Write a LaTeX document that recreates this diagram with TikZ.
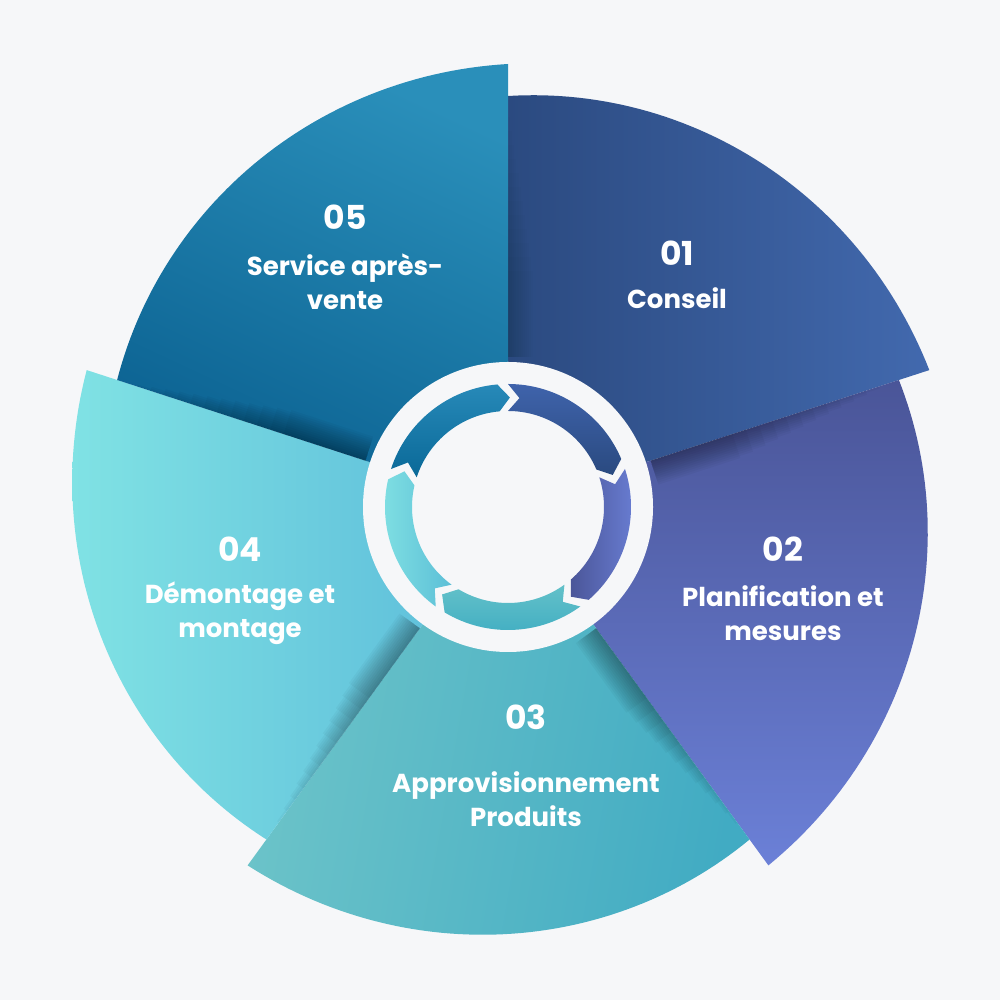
\documentclass[tikz,border=0pt]{standalone}
\usepackage{fontspec}
\setmainfont{Poppins}
\begin{document}
\begin{tikzpicture}[x=1pt,y=1pt,
  numtxt/.style={text=white,font=\fontsize{33}{36}\selectfont\bfseries,inner sep=0pt},
  labtxt/.style={text=white,font=\fontsize{26}{34}\selectfont\bfseries,align=center,inner sep=0pt}]
\definecolor{bg}{HTML}{F6F7F9}
\definecolor{sAa}{HTML}{2B4A80}\definecolor{sAb}{HTML}{4269AE}
\definecolor{sBa}{HTML}{4A5598}\definecolor{sBb}{HTML}{6B80D7}
\definecolor{sCa}{HTML}{6DC4C9}\definecolor{sCb}{HTML}{41ABC3}
\definecolor{sDa}{HTML}{80E2E4}\definecolor{sDb}{HTML}{5ABAD9}
\definecolor{sEa}{HTML}{0A6090}\definecolor{sEm}{HTML}{0B6A9A}\definecolor{sEb}{HTML}{2A8FBA}
\fill[bg] (0,0) rectangle (1000,1000);
\coordinate (C) at (508,493);
% segments
\shade[left color=sAa,right color=sAb] (C) -- plot[domain=18:90,samples=60] ({508+(411+32*(90-\x)/72)*cos(\x)},{493+(411+32*(90-\x)/72)*sin(\x)}) -- cycle;
\shade[top color=sBa,bottom color=sBb] (C) -- plot[domain=-54:18,samples=60] ({508+(411+32*(18-\x)/72)*cos(\x)},{493+(411+32*(18-\x)/72)*sin(\x)}) -- cycle;
\shade[left color=sCa,right color=sCb,shading angle=80] (C) -- plot[domain=-126:-54,samples=60] ({508+(411+32*(-54-\x)/72)*cos(\x)},{493+(411+32*(-54-\x)/72)*sin(\x)}) -- cycle;
\shade[left color=sDa,right color=sDb] (C) -- plot[domain=-198:-126,samples=60] ({508+(411+32*(-126-\x)/72)*cos(\x)},{493+(411+32*(-126-\x)/72)*sin(\x)}) -- cycle;
\shade[top color=sEb,middle color=sEm,bottom color=sEa,shading angle=-25] (C) -- plot[domain=90:162,samples=60] ({508+(411+32*(162-\x)/72)*cos(\x)},{493+(411+32*(162-\x)/72)*sin(\x)}) -- cycle;
% soft shadows along the boundaries
\foreach \b/\op in {18/0.03,-54/0.03,-126/0.03,162/0.03,90/0.01}{
  \begin{scope}[shift={(C)},rotate=\b]
    \foreach \i in {1,...,12}{
      \fill[black,opacity=\op] (150,0) rectangle (404-14*\i,-2.1*\i);
    }
  \end{scope}
}
% centre disc
\fill[bg] (C) circle[radius=145];
% arrows
\definecolor{aAa}{HTML}{3F63AB}\definecolor{aAb}{HTML}{2A4A80}
\definecolor{aBa}{HTML}{4B5699}\definecolor{aBb}{HTML}{6B80D7}
\definecolor{aCa}{HTML}{63C1C9}\definecolor{aCb}{HTML}{40ADC2}
\definecolor{aDa}{HTML}{81E1E3}\definecolor{aDb}{HTML}{5CBFD7}
\definecolor{aEa}{HTML}{2789B8}\definecolor{aEb}{HTML}{0A6998}
\begin{scope}[shift={(C)}]
\foreach \c/\ca/\cb/\sa in {54/aAa/aAb/0,-18/aBa/aBb/90,-90/aCa/aCb/0,-162/aDa/aDb/90,126/aEa/aEb/0}{
  \pgfmathsetmacro\ta{\c+36}
  \pgfmathsetmacro\tn{\c+30}
  \pgfmathsetmacro\ha{\c-31}
  \pgfmathsetmacro\hp{\c-37}
  \shade[left color=\ca,right color=\cb,shading angle=\sa]
    (\ta:123) arc[start angle=\ta,end angle=\ha,radius=123]
    -- (\hp:109.5) -- (\ha:96)
    arc[start angle=\ha,end angle=\ta,radius=96]
    -- (\tn:109.5) -- cycle;
}
\end{scope}
% texts
\node[numtxt] (n5) at (345,783) {05};
\node[labtxt] (l5) at (345,718.5) {Service après-\\vente};
\node[numtxt] (n1) at (677,747) {01};
\node[labtxt] (l1) at (677,702) {Conseil};
\node[numtxt] (n2) at (783,451) {02};
\node[labtxt] (l2) at (783,386.5) {Planification et\\mesures};
\node[numtxt] (n3) at (526,283) {03};
\node[labtxt] (l3) at (526,200.5) {Approvisionnement\\Produits};
\node[numtxt] (n4) at (240,451) {04};
\node[labtxt] (l4) at (240,386.5) {Démontage et\\montage};
\end{tikzpicture}
\end{document}
